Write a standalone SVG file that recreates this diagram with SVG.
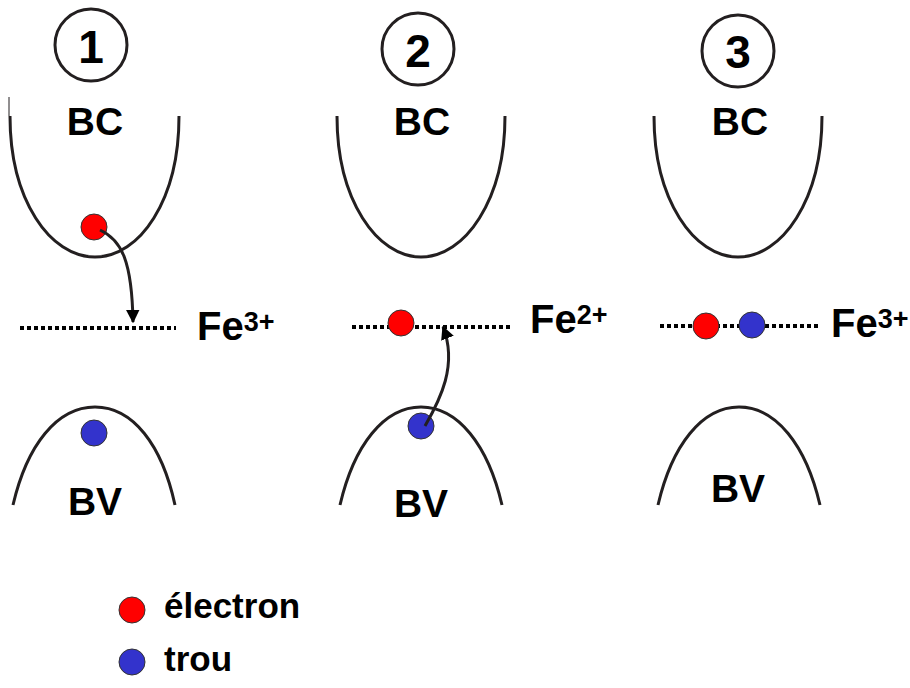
<svg xmlns="http://www.w3.org/2000/svg" width="910" height="688" viewBox="0 0 910 688">
<style>
.t{font-family:"Liberation Sans",Arial,sans-serif;font-weight:bold;fill:#000}
.band{fill:none;stroke:#231f20;stroke-width:3}
.num{fill:none;stroke:#231f20;stroke-width:3}
.dot{stroke:#000;stroke-width:4;stroke-dasharray:4 3}
.e{fill:#ff0000;stroke:#333;stroke-width:1}
.h{fill:#3333cc;stroke:#333;stroke-width:1}
.arr{fill:none;stroke:#231f20;stroke-width:3}
.sup{font-size:27px}
</style>
<defs>
<marker id="ah" viewBox="0 0 10 10" refX="9" refY="5" markerWidth="4.5" markerHeight="4.5" orient="auto" markerUnits="strokeWidth">
<path d="M0,0 L10,5 L0,10 z" fill="#000"/>
</marker>
</defs>
<rect width="910" height="688" fill="#fff"/>

<g id="panel1">
<circle class="num" cx="91" cy="45" r="36"/>
<text class="t" x="91" y="63" font-size="46" text-anchor="middle">1</text>
<line x1="9" y1="97" x2="9" y2="116" stroke="#231f20" stroke-width="1"/>
<path class="band" d="M10,116 C10,200 50,257 95,257 C140,257 179,200 179,116"/>
<text class="t" x="95" y="135" font-size="39" text-anchor="middle">BC</text>
<line class="dot" x1="20" y1="328" x2="176" y2="328"/>
<text class="t" x="197" y="340" font-size="40">Fe<tspan class="sup" dy="-9">3+</tspan></text>
<path class="band" d="M13,505 C27,445 57,407 95,407 C133,407 162,445 175,505"/>
<text class="t" x="95" y="515" font-size="39" text-anchor="middle">BV</text>
<circle class="e" cx="94" cy="227" r="13"/>
<circle class="h" cx="94" cy="433" r="13"/>
</g>

<g id="panel2">
<circle class="num" cx="418" cy="49" r="36"/>
<text class="t" x="418" y="67" font-size="46" text-anchor="middle">2</text>
<path class="band" d="M337,116 C337,200 377,257 421,257 C465,257 505,200 505,116"/>
<text class="t" x="422" y="135" font-size="39" text-anchor="middle">BC</text>
<line class="dot" x1="352" y1="327" x2="510" y2="327"/>
<text class="t" x="530" y="333" font-size="40">Fe<tspan class="sup" dy="-9">2+</tspan></text>
<path class="band" d="M340,505 C354,445 384,407 421,407 C458,407 488,445 502,505"/>
<text class="t" x="421" y="517" font-size="39" text-anchor="middle">BV</text>
<circle class="e" cx="401" cy="323" r="13"/>
<circle class="h" cx="421" cy="426" r="13"/>
</g>

<g id="panel3">
<circle class="num" cx="738" cy="51" r="36"/>
<text class="t" x="738" y="68" font-size="46" text-anchor="middle">3</text>
<path class="band" d="M654,116 C654,200 694,257 738,257 C782,257 822,200 822,116"/>
<text class="t" x="740" y="135" font-size="39" text-anchor="middle">BC</text>
<line class="dot" x1="660" y1="326" x2="818" y2="326"/>
<text class="t" x="831" y="337" font-size="40">Fe<tspan class="sup" dy="-9">3+</tspan></text>
<path class="band" d="M658,505 C672,445 702,407 739,407 C776,407 806,445 820,505"/>
<text class="t" x="738" y="502" font-size="39" text-anchor="middle">BV</text>
<circle class="e" cx="706" cy="326" r="13"/>
<circle class="h" cx="752" cy="325" r="13"/>
</g>

<g id="connectors">
<path class="arr" d="M100,230 C122,240 132,262 133,322" marker-end="url(#ah)"/>
<path class="arr" d="M425,426 C440,400 458,365 443,327" marker-end="url(#ah)"/>
</g>

<g id="legend">
<circle class="e" cx="132" cy="610" r="13"/>
<text class="t" x="164" y="618" font-size="35">électron</text>
<circle class="h" cx="132" cy="662" r="13"/>
<text class="t" x="164" y="671" font-size="35">trou</text>
</g>
</svg>
